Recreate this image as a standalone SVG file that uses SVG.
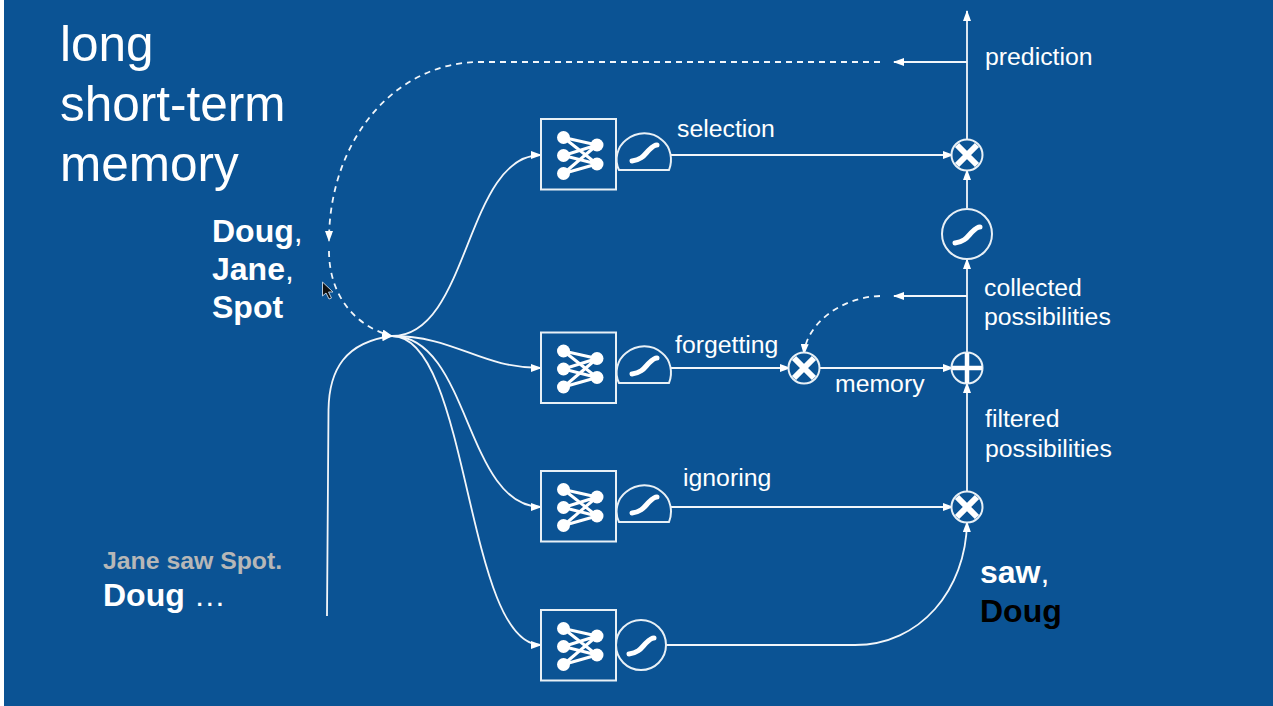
<svg xmlns="http://www.w3.org/2000/svg" xmlns:xlink="http://www.w3.org/1999/xlink" width="1273" height="706" viewBox="0 0 1273 706">
<style>
text{font-family:"Liberation Sans",Arial,sans-serif;fill:#fff}
.l{font-size:24.800px}
.t{font-size:49.500px}
.b{font-size:32px;font-weight:bold}
.c{fill:none;stroke:#f2f6fa;stroke-width:1.8}
.d{stroke-dasharray:6 5}
.o{fill:#0b5394;stroke:#e8f0f6;stroke-width:2}
.k{fill:none;stroke:#fff;stroke-width:5;stroke-linecap:round}
.x{fill:none;stroke:#fff;stroke-width:6}
.h{fill:#fff}
</style>
<defs>
<marker id="a" markerWidth="12" markerHeight="8" refX="10" refY="4" orient="auto" markerUnits="userSpaceOnUse"><path d="M0 0L11 4L0 8z" fill="#fff"/></marker>
<g id="net">
<rect x="0" y="0" width="75" height="70.500" fill="none" stroke="#e8f0f6" stroke-width="2"/>
<path d="M22.500 18.500L56 26M22.500 18.500L56 45M22.500 36.500L56 26M22.500 36.500L56 45M22.500 54.500L56 26M22.500 54.500L56 45" fill="none" stroke="#fff" stroke-width="3"/>
<circle cx="22.500" cy="18.500" r="6.500" class="h"/><circle cx="22.500" cy="36.500" r="6.500" class="h"/><circle cx="22.500" cy="54.500" r="6.500" class="h"/><circle cx="56" cy="26" r="6.500" class="h"/><circle cx="56" cy="45" r="6.500" class="h"/>
</g>
<g id="gate">
<path d="M619 170C614 160 617 147 626 140C637 131 652 131 662 140C671 147 673 160 669 170Z" class="o"/>
<path d="M632 161C642 160 645 154 649 150C652 147 654 145 657 145" class="k"/>
</g>
</defs>
<rect width="1273" height="706" fill="#0b5394"/>
<rect width="4" height="706" fill="#fff"/>
<g id="connectors">
<path class="c" d="M327 616L328.500 410C329 370 345 342 392 336" marker-end="url(#a)"/>
<path class="c" d="M392 336C470 336 465 155 541 155" marker-end="url(#a)"/>
<path class="c" d="M392 336C455 336 480 368 541 368" marker-end="url(#a)"/>
<path class="c" d="M392 336C470 336 465 507 541 507" marker-end="url(#a)"/>
<path class="c" d="M392 336C470 336 465 645 541 645" marker-end="url(#a)"/>
<path class="c d" d="M880 62L480 62C395 62 329 140 329 241" marker-end="url(#a)"/>
<path class="c d" d="M329 251C329 290 350 325 392 336" marker-end="url(#a)"/>
<path class="c" d="M967 62L894 62" marker-end="url(#a)"/>
<path class="c" d="M967 296L894 296" marker-end="url(#a)"/>
<path class="c d" d="M880 296C840 297 806 325 804 354" marker-end="url(#a)"/>
<path class="c" d="M671 155L953 155" marker-end="url(#a)"/>
<path class="c" d="M671 368L790 368" marker-end="url(#a)"/>
<path class="c" d="M819 368L953 368" marker-end="url(#a)"/>
<path class="c" d="M671 507L953 507" marker-end="url(#a)"/>
<path class="c" d="M666 645L855 645C920 645 966 590 967 522" marker-end="url(#a)"/>
<path class="c" d="M967 492L967 383" marker-end="url(#a)"/>
<path class="c" d="M967 353L967 259" marker-end="url(#a)"/>
<path class="c" d="M967 208L967 170" marker-end="url(#a)"/>
<path class="c" d="M967 140L967 11" marker-end="url(#a)"/>
</g>
<g id="n1"><use href="#net" x="541" y="119"/><use href="#gate"/></g>
<g id="n2"><use href="#net" x="541" y="332.500"/><use href="#gate" y="213"/></g>
<g id="n3"><use href="#net" x="541" y="471"/><use href="#gate" y="352"/></g>
<g id="n4"><use href="#net" x="541" y="610"/><circle cx="641" cy="645" r="25" class="o"/><path d="M629 654C639 653 642 647 646 643C649 640 651 638 654 638" class="k"/></g>
<g id="m1"><circle cx="967" cy="155" r="15.500" class="o"/><path class="x" d="M957 145L977 165M977 145L957 165"/></g>
<g id="m2"><circle cx="804" cy="368" r="15.500" class="o"/><path class="x" d="M794 358L814 378M814 358L794 378"/></g>
<g id="m3"><circle cx="967" cy="507" r="15.500" class="o"/><path class="x" d="M957 497L977 517M977 497L957 517"/></g>
<g id="p1"><circle cx="967" cy="368" r="15.500" class="o"/><path d="M952 368L982 368M967 353L967 383" fill="none" stroke="#fff" stroke-width="4.500"/></g>
<g id="s1"><circle cx="967" cy="234" r="25" class="o"/><path d="M955 243C965 242 968 236 972 232C975 229 977 227 980 227" class="k"/></g>
<path id="cursor" d="M322.500 282L322.500 296L326 293L329 299L331.500 298L328.500 292L333 292Z" fill="#111" stroke="#bcd" stroke-width="1"/>
<g id="labels">
<text class="t" x="60" y="61">long</text>
<text class="t" x="60" y="121">short-term</text>
<text class="t" x="60" y="181">memory</text>
<text class="b" x="212" y="242">Doug<tspan font-weight="normal">,</tspan></text>
<text class="b" x="212" y="280">Jane<tspan font-weight="normal">,</tspan></text>
<text class="b" x="212" y="318">Spot</text>
<text x="103" y="569" font-size="24.800" font-weight="bold" style="fill:#b7b7b7">Jane saw Spot.</text>
<text x="103" y="606" class="b">Doug <tspan font-weight="normal">…</tspan></text>
<text class="l" x="677" y="137">selection</text>
<text class="l" x="675" y="353">forgetting</text>
<text class="l" x="683" y="486">ignoring</text>
<text class="l" x="835" y="392">memory</text>
<text class="l" x="985" y="65">prediction</text>
<text class="l" x="984" y="296">collected</text>
<text class="l" x="984" y="325">possibilities</text>
<text class="l" x="985" y="427">filtered</text>
<text class="l" x="985" y="457">possibilities</text>
<text class="b" x="980" y="583">saw<tspan font-weight="normal">,</tspan></text>
<text class="b" x="980" y="622" style="fill:#000">Doug</text>
</g>
</svg>
